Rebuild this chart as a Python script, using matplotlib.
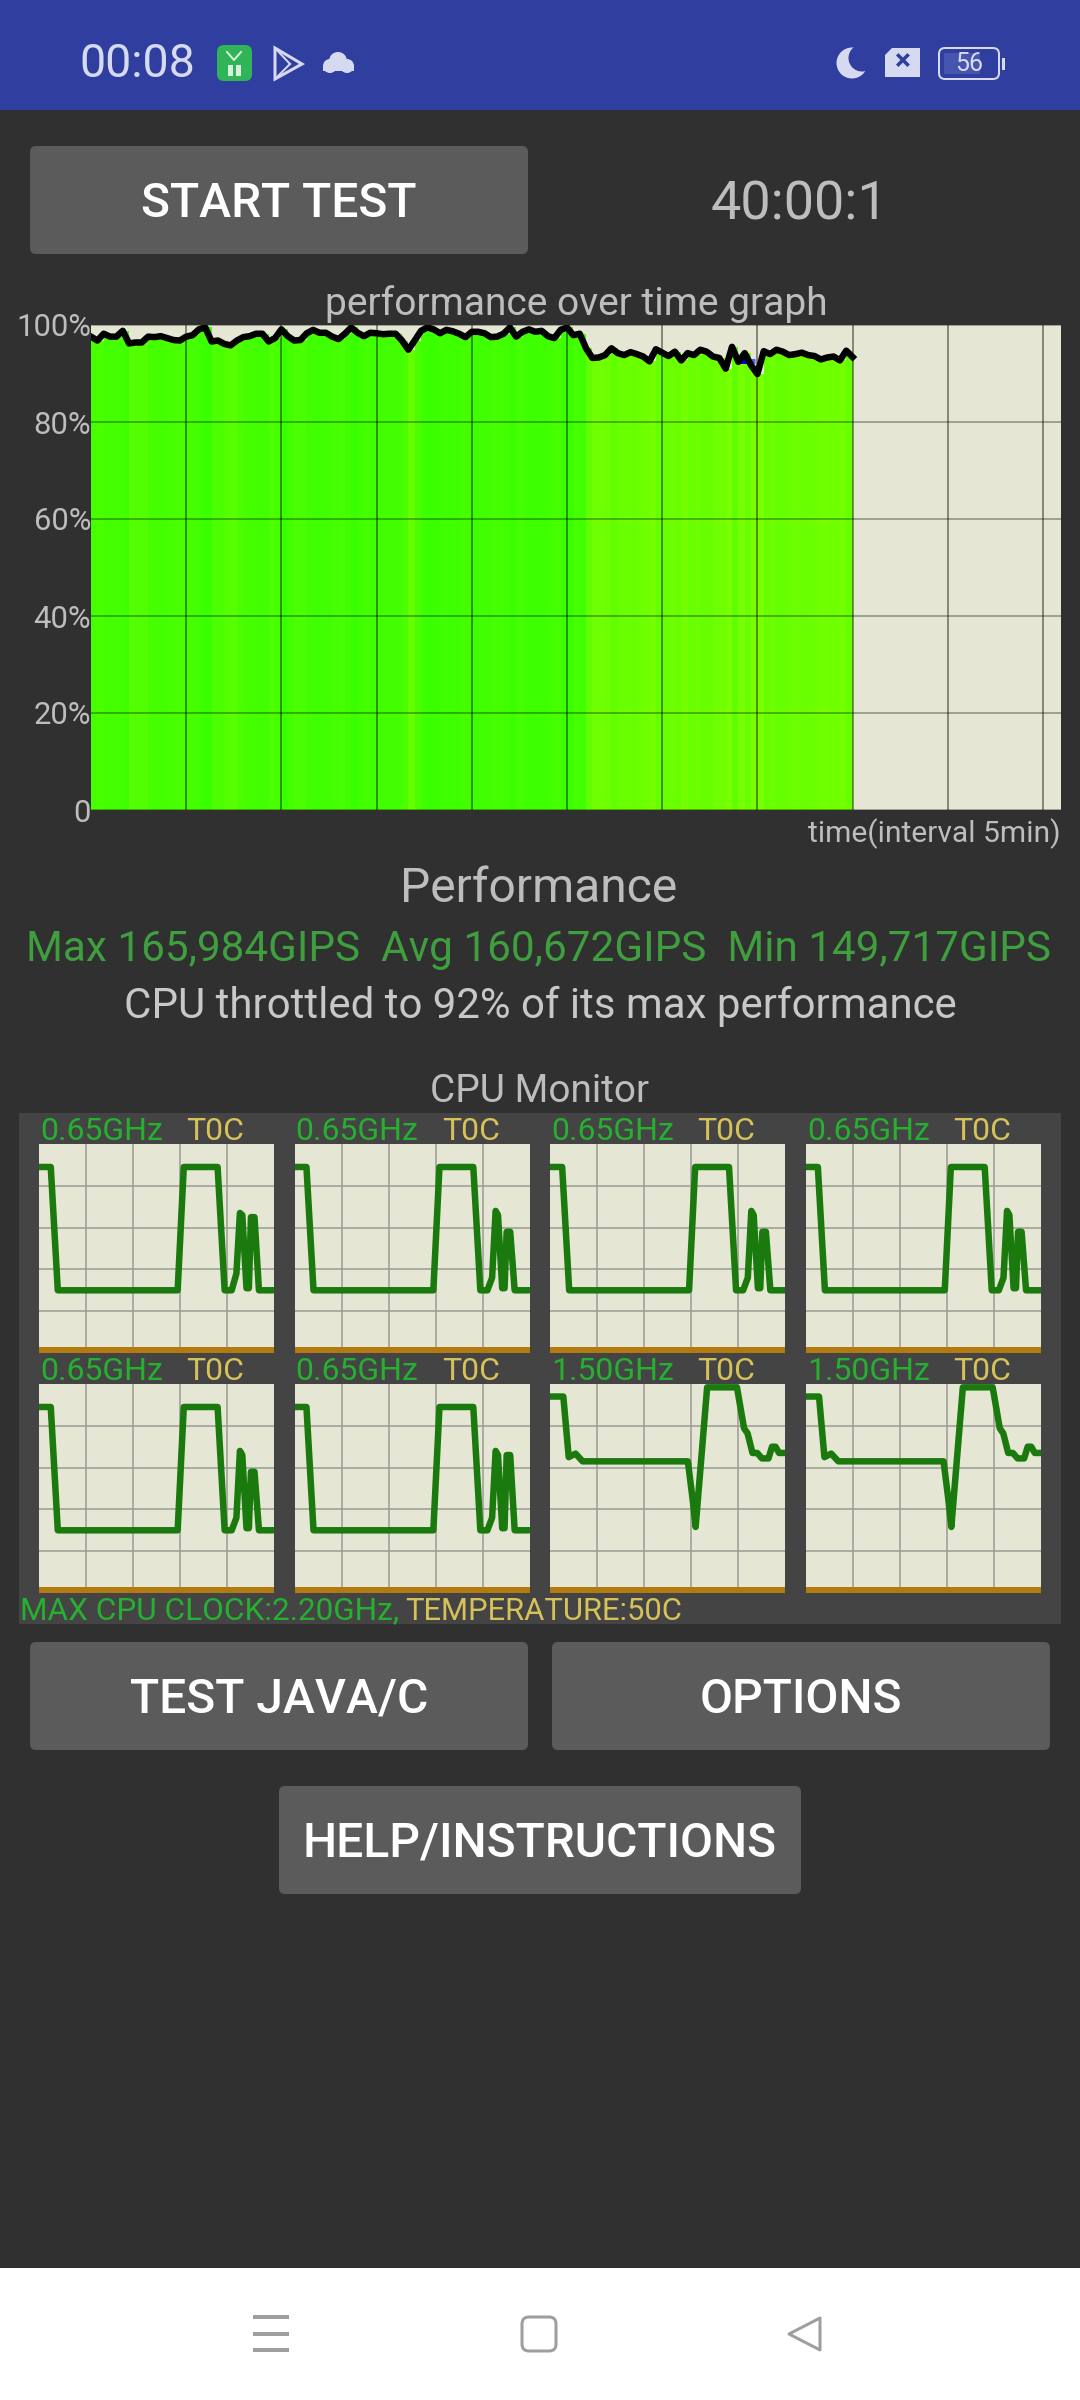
import numpy as np
import matplotlib
matplotlib.use('Agg')
import matplotlib.pyplot as plt
from matplotlib.colors import LinearSegmentedColormap, Normalize
from matplotlib.patches import FancyBboxPatch, Rectangle, Polygon, Circle

plt.rcParams['font.family'] = ['Roboto', 'DejaVu Sans']

# performance in percent, read every 6.34 px off the graph (40 min long)
perf_values = [
    97.6, 96.8, 98.2, 97.6, 97.6, 98.8, 96.2, 96.4, 96.4, 97.6, 97.5, 97.7, 97.3, 96.9, 96.8, 97.6,
    97.9, 99.1, 99.5, 96.6, 96.8, 96.1, 95.8, 96.8, 97.5, 97.7, 98.2, 98.2, 96.6, 97.3, 99.1,
    97.7, 96.8, 96.9, 98.3, 99.0, 98.4, 98.4, 97.6, 97.1, 98.2, 99.5, 98.4, 97.7, 98.4, 98.3,
    98.1, 98.2, 98.2, 96.8, 94.9, 96.8, 98.8, 99.5, 99.1, 98.3, 99.0, 98.7, 98.2, 97.5, 98.6,
    98.6, 98.3, 97.5, 97.6, 98.2, 99.5, 97.6, 98.6, 99.1, 98.6, 98.8, 97.7, 97.3, 99.0, 99.5,
    97.9, 98.2, 95.2, 93.2, 93.3, 93.8, 95.2, 94.2, 93.8, 94.4, 94.0, 93.5, 92.5, 95.0, 94.3,
    93.6, 94.5, 92.7, 94.2, 93.8, 94.9, 94.5, 93.5, 93.2, 91.0, 95.5, 92.4, 94.2, 91.7, 89.9,
    94.6, 94.0, 94.9, 94.5, 93.8, 94.0, 94.3, 93.8, 93.6, 92.9, 93.3, 93.5, 92.7, 94.7, 93.4,
]
test_minutes = 40
perf_yticks = [0, 20, 40, 60, 80, 100]
perf_ylabels = ['0', '20%', '40%', '60%', '80%', '100%']
perf_xticks = [5, 10, 15, 20, 25, 30, 35, 40, 45, 50]
marker_x = [33.9, 34.45, 34.9]
marker_y = [92.6, 92.6, 92.6]

# cpu clock traces, percent of the small graph height
small_x = [0, 5, 8, 59, 61.6, 76, 79, 82, 84, 85.5, 86.5, 88.3, 89.3, 90.2, 91.7, 93.6, 100]
small_a = [89, 89, 30, 30, 89, 89, 30, 30, 38, 67, 66, 31, 31, 65, 65, 30, 30]
small_b = [89, 89, 30, 30, 89, 89, 30, 30, 36, 68, 66, 31, 31, 58, 58, 30, 30]
small_c = [89, 89, 30, 30, 89, 89, 30, 30, 36, 68, 66, 31, 31, 66, 66, 30, 30]
big_x = [0, 5.5, 7.8, 10.7, 13.7, 58.5, 60.5, 61.8, 66.7, 79.4, 82.4, 83.9, 86, 88, 90, 92.8, 94.3, 95.8, 97.3, 100]
big_y = [94, 94, 65, 66.7, 63, 63, 45, 31.6, 98.4, 98.4, 78.8, 76.4, 67, 67, 64.4, 64.4, 70, 70, 67, 67]
cpu_x = [small_x] * 6 + [big_x] * 2
cpu_y = [small_a, small_b, small_b, small_b, small_b, small_c, big_y, big_y]
cpu_clock = ['0.65GHz'] * 6 + ['1.50GHz'] * 2
cpu_temp = ['T0C'] * 8

BG = '#303030'
BEIGE = '#e6e6d4'
GREY_TEXT = '#bdbdbd'
PANEL = '#444444'
BUTTON = '#5b5b5c'
GREEN_TEXT = '#25b030'
YELLOW_TEXT = '#d6c258'
STATUS = '#d6daf0'

W, H = 1080, 2400


def fs(px):
    """Font size in points for an em size in pixels."""
    return px * 0.72


def lw(px):
    """Line width in points for a width in pixels."""
    return px * 0.72


def px_axes(x0, y0, x1, y1):
    """Axes placed by pixel box, y measured from the top of the image."""
    return fig.add_axes([x0 / W, 1 - y1 / H, (x1 - x0) / W, (y1 - y0) / H])


fig = plt.figure(figsize=(10.8, 24), dpi=100, facecolor=BG)
bg = fig.add_axes([0, 0, 1, 1])
bg.set_xlim(0, W)
bg.set_ylim(H, 0)
bg.axis('off')


def label(x, y, s, px, color, ha='center', weight='normal'):
    bg.text(x, y + 4, s, fontsize=fs(px), color=color, ha=ha, va='center', fontweight=weight, zorder=5)


def button(x0, y0, x1, y1, s):
    bg.add_patch(FancyBboxPatch((x0 + 6, y0 + 6), x1 - x0 - 12, y1 - y0 - 12,
                                boxstyle='round,pad=6,rounding_size=6', fc=BUTTON, ec='none'))
    label((x0 + x1) / 2, (y0 + y1) / 2, s, 48, 'white', weight='medium')


# status bar and navigation bar
bg.add_patch(Rectangle((0, 0), W, 110, fc='#303f9f', ec='none'))
bg.add_patch(Rectangle((0, 2268), W, 132, fc='white', ec='none'))
label(79, 60, '00:08', 46.5, STATUS, ha='left')
bg.add_patch(FancyBboxPatch((221, 49), 27, 28, boxstyle='round,pad=4,rounding_size=7', fc='#2fb457', ec='none'))
bg.plot([227, 234, 241], [52, 60, 52], color='#d8f0dc', lw=lw(2))
bg.add_patch(Rectangle((228, 65), 5, 11, fc='#d8f0dc', ec='none'))
bg.add_patch(Rectangle((236, 65), 5, 11, fc='#d8f0dc', ec='none'))
bg.add_patch(Polygon([(275, 48), (302, 64), (275, 79)], fc='none', ec=STATUS, lw=lw(3)))
bg.plot([275, 290], [48, 64], color=STATUS, lw=lw(2))
bg.plot([275, 290], [79, 64], color=STATUS, lw=lw(2))
for cx, cy, r in [(330, 66, 7), (338, 61, 9), (347, 66, 7)]:
    bg.add_patch(Circle((cx, cy), r, fc=STATUS, ec='none'))
bg.add_patch(Rectangle((323, 65), 31, 6, fc=STATUS, ec='none'))
bg.add_patch(Circle((852, 63), 15.5, fc=STATUS, ec='none'))
bg.add_patch(Circle((862, 58), 13.5, fc='#303f9f', ec='none'))
bg.add_patch(Polygon([(892, 48), (920, 48), (920, 77), (885, 77), (885, 55)], fc=STATUS, ec='none'))
label(902.5, 58, '×', 30, '#303f9f', weight='bold')
bg.add_patch(FancyBboxPatch((941, 50), 56, 27, boxstyle='round,pad=2,rounding_size=6', fc='none', ec=STATUS, lw=lw(2)))
bg.add_patch(Rectangle((944, 53), 36, 21, fc='#4655ad', ec='none'))
bg.add_patch(Rectangle((1002, 58), 2.5, 12, fc=STATUS, ec='none'))
label(969, 60, '56', 25, STATUS)
for yy in (2317, 2334, 2350):
    bg.add_patch(Rectangle((253, yy - 2), 36, 4, fc='#9e9e9e', ec='none'))
bg.add_patch(FancyBboxPatch((528, 2323), 22, 22, boxstyle='round,pad=6,rounding_size=7', fc='none', ec='#9e9e9e', lw=lw(3)))
bg.add_patch(Polygon([(820, 2318), (820, 2350), (789, 2334)], fc='none', ec='#9e9e9e', lw=lw(3), joinstyle='round'))

# buttons and plain text
button(30, 146, 528, 254, 'START TEST')
button(30, 1642, 528, 1750, 'TEST JAVA/C')
button(552, 1642, 1050, 1750, 'OPTIONS')
button(279, 1786, 801, 1894, 'HELP/INSTRUCTIONS')
label(800, 201, '40:00:1', 54, GREY_TEXT)
label(576, 300, 'performance over time graph', 39, GREY_TEXT)
label(1061, 830, 'time(interval 5min)', 30, GREY_TEXT, ha='right')
label(539, 885, 'Performance', 48, GREY_TEXT)
label(539, 946, 'Max 165,984GIPS  Avg 160,672GIPS  Min 149,717GIPS', 42.2, '#3f9f3f')
label(540, 1002, 'CPU throttled to 92% of its max performance', 42, '#c8c8c8')
label(540, 1087, 'CPU Monitor', 38.8, GREY_TEXT)

# performance graph
ax = px_axes(91, 325, 1061, 810)
ax.set_facecolor(BEIGE)
perf_x = np.linspace(0, test_minutes, len(perf_values))
perf_y = np.array(perf_values)
cmap = LinearSegmentedColormap.from_list('perf', [
    (0.0, (120 / 255, 1, 0)), (3 / 8, (100 / 255, 1, 0)), (5 / 8, (72 / 255, 1, 0)), (1.0, (55 / 255, 1, 0))])
norm = Normalize(92, 100)
ax.bar(perf_x[:-1], perf_y[:-1], width=perf_x[1] - perf_x[0], align='edge', color=cmap(norm(perf_y[:-1])), zorder=1)
ax.set_xlim(0, 970 / 95.2 * 5)
ax.set_ylim(0, 100)
ax.set_xticks(perf_xticks)
ax.set_yticks(perf_yticks, perf_ylabels)
ax.tick_params(axis='x', length=0, labelbottom=False)
ax.tick_params(axis='y', length=0, pad=0, labelsize=fs(31), labelcolor=GREY_TEXT)
ax.grid(axis='x', color='#000000', alpha=0.55, lw=lw(1.5), zorder=2)
ax.grid(axis='y', color='#000000', alpha=0.4, lw=lw(1.5), zorder=2)
ax.set_axisbelow(False)
for side in ax.spines.values():
    side.set_visible(False)
ax.plot(marker_x[:2], marker_y[:2], color='#0000e6', lw=lw(5), solid_capstyle='butt', zorder=3)
ax.plot(marker_x[1:], marker_y[1:], color='#5a5af5', lw=lw(5), solid_capstyle='butt', zorder=3)
ax.plot(perf_x, perf_y, color='black', lw=lw(6.5), zorder=4)

# cpu monitor
bg.add_patch(Rectangle((19, 1113), 1042, 511, fc=PANEL, ec='none'))
for i in range(8):
    col, row = i % 4, i // 4
    left = 39 + col * 255.7
    top = 1144 + row * 240
    a = px_axes(left, top, left + 235, top + 209)
    a.set_facecolor(BEIGE)
    a.set_xlim(0, 100)
    a.set_ylim(0, 100)
    a.set_xticks([20, 40, 60, 80])
    a.set_yticks([20, 40, 60, 80])
    a.tick_params(length=0, labelbottom=False, labelleft=False)
    a.grid(color='#9a9a92', lw=lw(1.5))
    for side in a.spines.values():
        side.set_visible(False)
    a.axhspan(0, 3, color='#b37a10', lw=0, zorder=2)
    a.plot(cpu_x[i], cpu_y[i], color='#1a7a0e', lw=lw(6.5), zorder=3)
    label(left + 1, top - 17, cpu_clock[i], 32, GREEN_TEXT, ha='left')
    label(left + 176, top - 17, cpu_temp[i], 32, YELLOW_TEXT)

label(20, 1607, 'MAX CPU CLOCK:2.20GHz,', 31.5, GREEN_TEXT, ha='left')
label(405, 1607, 'TEMPERATURE:50C', 31, YELLOW_TEXT, ha='left')

fig.savefig('out.png', dpi=100, facecolor=BG)
